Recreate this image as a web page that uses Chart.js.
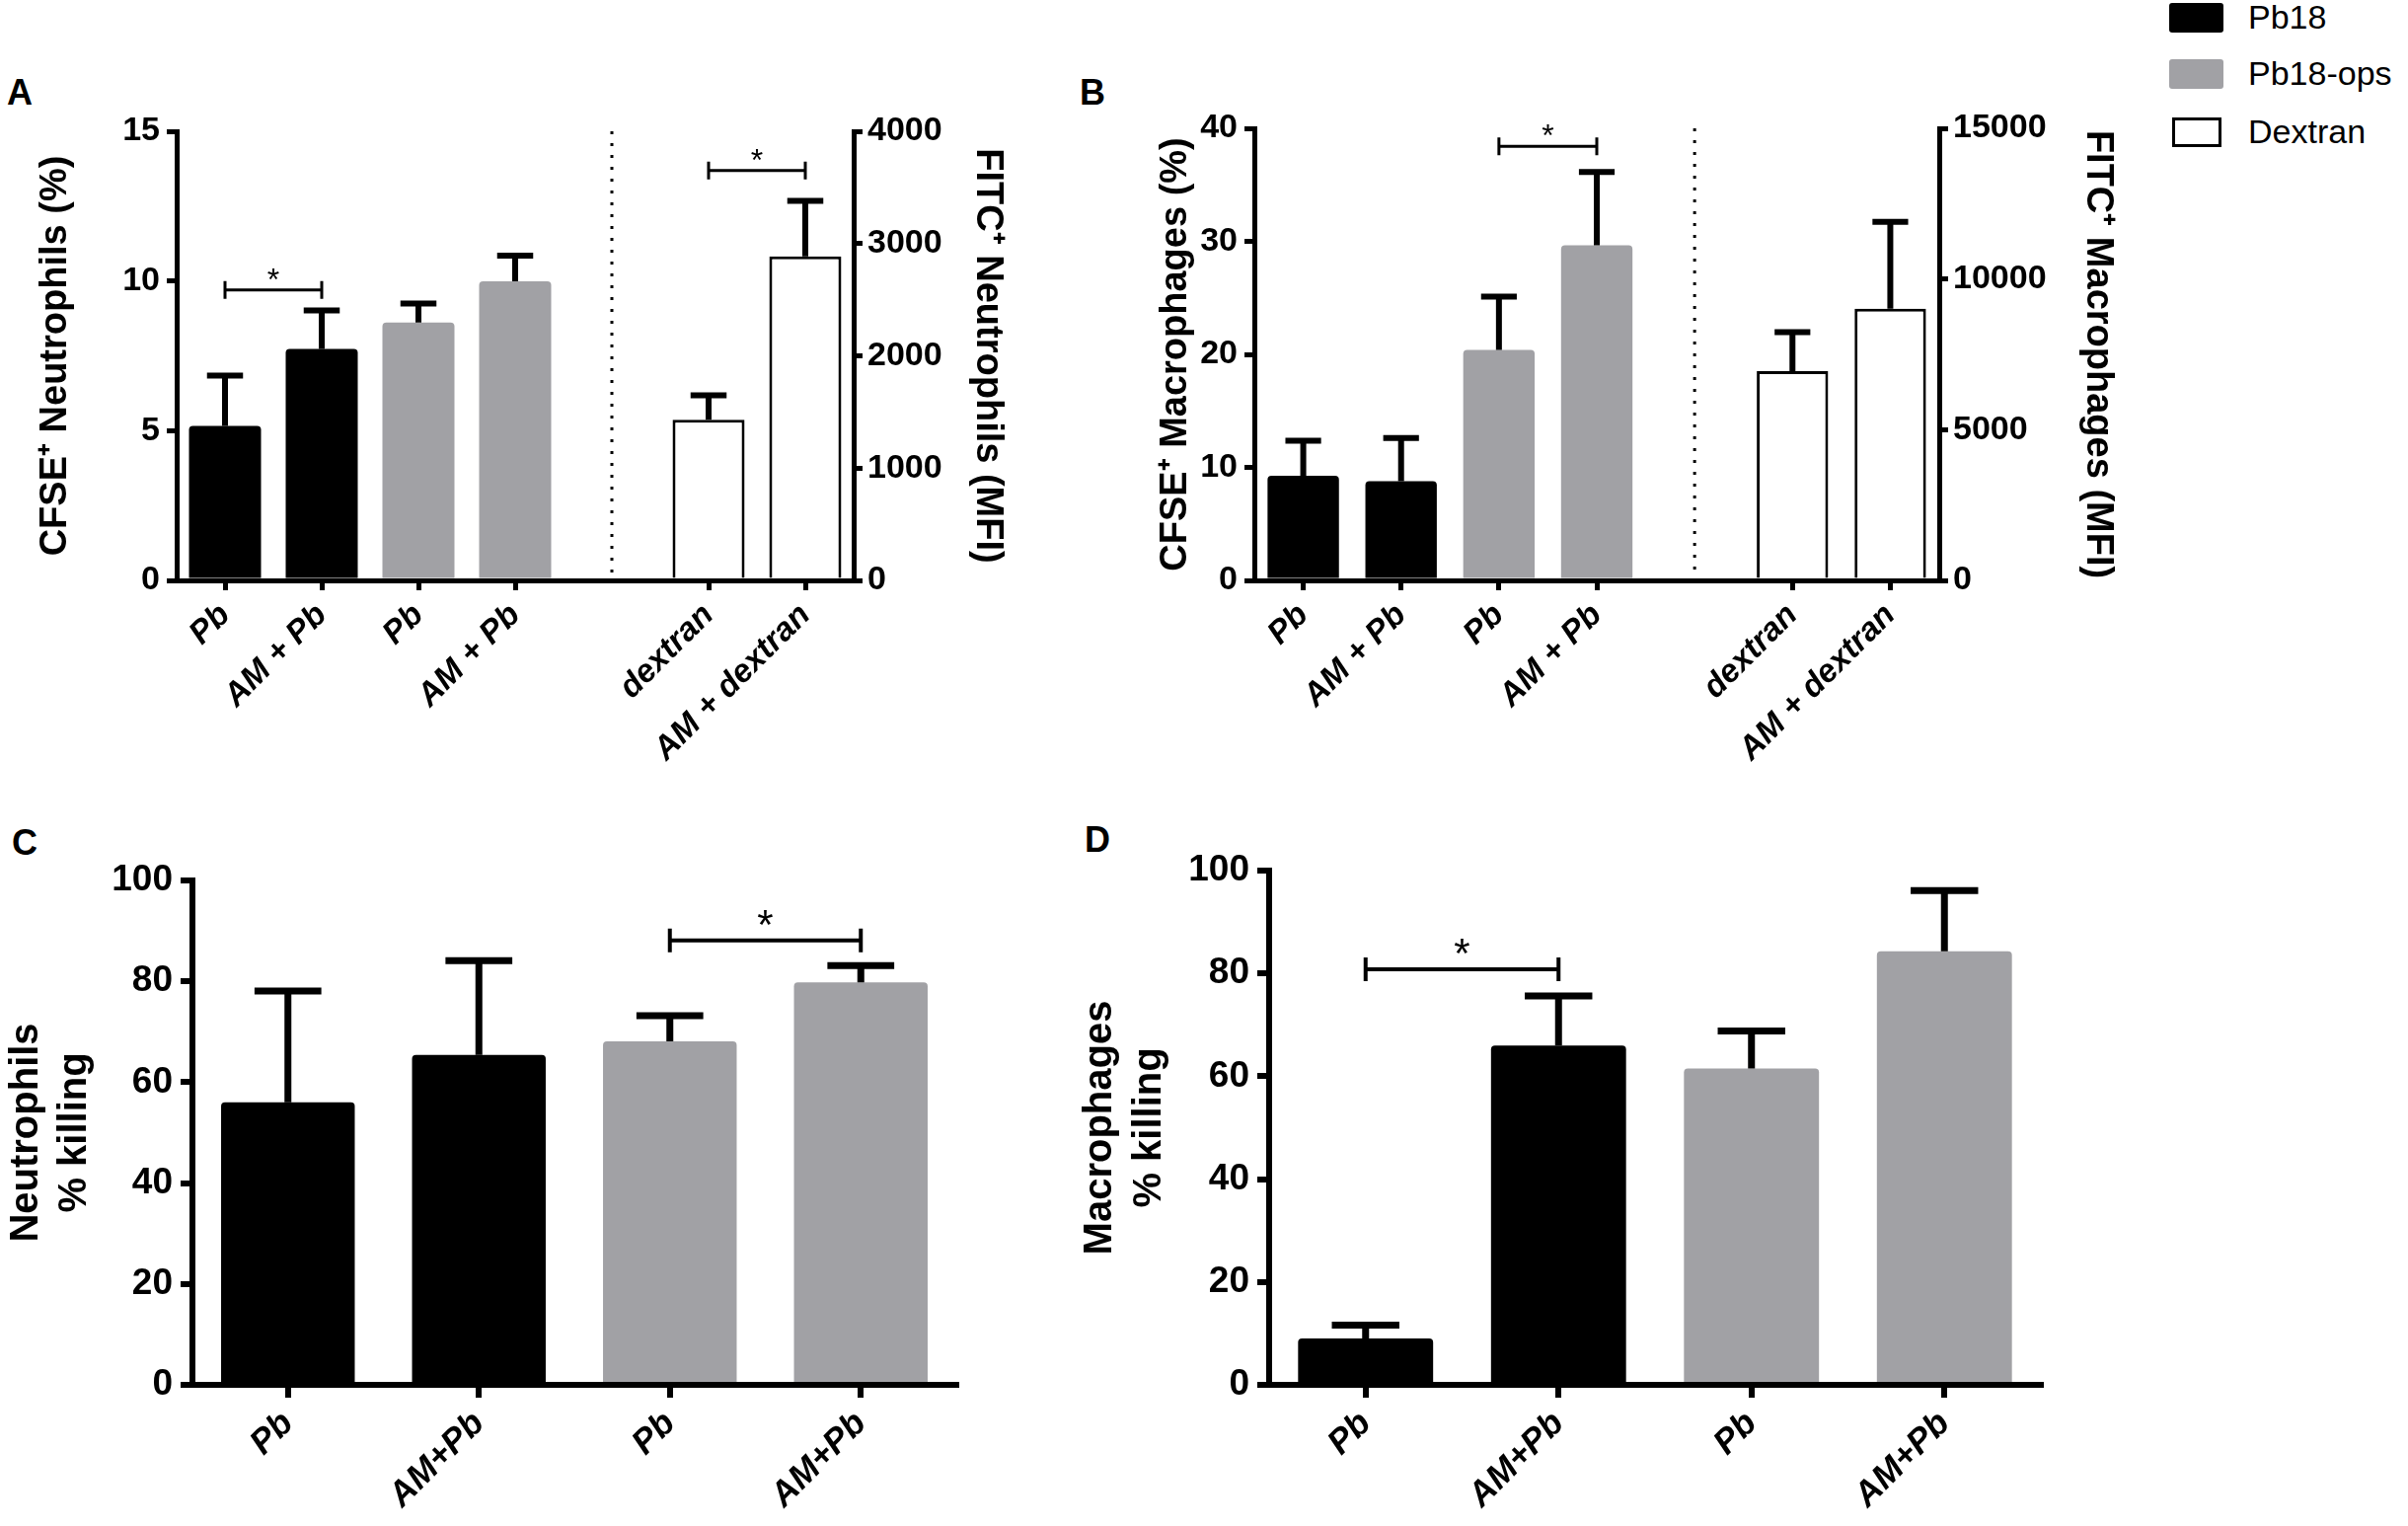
<!DOCTYPE html>
<html>
<head>
<meta charset="utf-8">
<script src="https://cdn.jsdelivr.net/npm/chart.js@4.4.1/dist/chart.umd.min.js"></script>
<style>
  html, body { margin: 0; padding: 0; background: #fff; }
  body { width: 2440px; height: 1546px; position: relative; overflow: hidden; font-family: 'Liberation Sans', Arial, sans-serif; }
  canvas { position: absolute; }
  .letter { position: absolute; font-weight: bold; font-size: 36px; line-height: 1; }
  .leg { position: absolute; left: 2198px; font-size: 34px; line-height: 1; white-space: nowrap; }
  .leg span.box { position: absolute; left: 0; width: 55px; height: 30px; box-sizing: border-box; border-radius: 3px; }
  .leg span.txt { position: absolute; left: 80px; top: -3px; }
</style>
</head>
<body>
<div class="letter" style="left:7px; top:76px;">A</div>
<div class="letter" style="left:1094px; top:76px;">B</div>
<div class="letter" style="left:12px; top:836px;">C</div>
<div class="letter" style="left:1099px; top:833px;">D</div>

<div class="leg" style="top:3px;"><span class="box" style="background:#000;"></span><span class="txt">Pb18</span></div>
<div class="leg" style="top:60px;"><span class="box" style="background:#a1a1a5;"></span><span class="txt">Pb18-ops</span></div>
<div class="leg" style="top:119px;"><span class="box" style="background:#fff; border:3px solid #000; border-radius:0; left:3px; width:50px;"></span><span class="txt">Dextran</span></div>

<canvas id="chartA" width="1040" height="800" style="left:0; top:0;"></canvas>
<canvas id="chartB" width="1100" height="800" style="left:1080px; top:0;"></canvas>
<canvas id="chartC" width="1000" height="726" style="left:0; top:820px;"></canvas>
<canvas id="chartD" width="1040" height="726" style="left:1080px; top:820px;"></canvas>

<script>
// ---- data ----
// A: neutrophils, CFSE+ (%) for Pb18 / Pb18-ops, FITC+ MFI for dextran
const labelsAB = ['Pb', 'AM + Pb', 'Pb', 'AM + Pb', '', 'dextran', 'AM + dextran'];
const cfseNeutro = [5.16, 7.73, 8.61, 9.99];
const cfseNeutroErr = [1.68, 1.29, 0.64, 0.86];
const fitcNeutro = [1430, 2885];
const fitcNeutroErr = [218, 496];
const sigA = [
  { from: 0, to: 1, level: 9.7, axis: 'y' },
  { from: 5, to: 6, level: 3650, axis: 'y2' }
];

// B: macrophages
const cfseMacro = [9.26, 8.77, 20.39, 29.64];
const cfseMacroErr = [3.09, 3.82, 4.71, 6.5];
const fitcMacro = [6945, 9016];
const fitcMacroErr = [1294, 2878];
const sigB = [{ from: 2, to: 3, level: 38.4, axis: 'y' }];

// C / D: % killing
const labelsCD = ['Pb', 'AM+Pb', 'Pb', 'AM+Pb'];
const killNeutro = [56.0, 65.4, 68.1, 79.8];
const killNeutroErr = [22.1, 18.7, 5.1, 3.3];
const sigC = [{ from: 2, to: 3, level: 88.1, axis: 'y' }];
const killMacro = [9.0, 66.0, 61.5, 84.3];
const killMacroErr = [2.6, 9.6, 7.3, 11.8];
const sigD = [{ from: 0, to: 1, level: 80.8, axis: 'y' }];

// ---- styles ----
const BLACK = '#000000';
const GRAY = '#a1a1a5';
const WHITE = '#ffffff';
const groupColors = [BLACK, BLACK, GRAY, GRAY];
const SANS = "'Liberation Sans', Arial, sans-serif";

// error bars (upper only, GraphPad style)
const errorBars = {
  id: 'errorBars',
  afterDatasetsDraw(chart) {
    const ctx = chart.ctx;
    chart.data.datasets.forEach((ds, di) => {
      if (!ds.errors) return;
      const meta = chart.getDatasetMeta(di);
      const scale = chart.scales[meta.yAxisID];
      meta.data.forEach((bar, i) => {
        const v = ds.data[i], e = ds.errors[i];
        if (v == null || e == null) return;
        const yTop = scale.getPixelForValue(v + e);
        const half = bar.width / 4;
        ctx.save();
        ctx.strokeStyle = BLACK;
        ctx.lineWidth = ds.errorWidth;
        ctx.beginPath();
        ctx.moveTo(bar.x, bar.y);
        ctx.lineTo(bar.x, yTop);
        ctx.moveTo(bar.x - half, yTop);
        ctx.lineTo(bar.x + half, yTop);
        ctx.stroke();
        ctx.restore();
      });
    });
  }
};

// significance brackets with a star
const sigBrackets = {
  id: 'sigBrackets',
  afterDatasetsDraw(chart, args, opts) {
    if (!opts.items) return;
    const ctx = chart.ctx;
    const xs = chart.scales.x;
    opts.items.forEach(b => {
      const x1 = xs.getPixelForValue(b.from);
      const x2 = xs.getPixelForValue(b.to);
      const y = chart.scales[b.axis].getPixelForValue(b.level);
      ctx.save();
      ctx.strokeStyle = BLACK;
      ctx.lineWidth = opts.lineWidth;
      ctx.beginPath();
      ctx.moveTo(x1, y); ctx.lineTo(x2, y);
      ctx.moveTo(x1, y - opts.tick); ctx.lineTo(x1, y + opts.tick);
      ctx.moveTo(x2, y - opts.tick); ctx.lineTo(x2, y + opts.tick);
      ctx.stroke();
      ctx.fillStyle = BLACK;
      ctx.font = opts.starSize + 'px ' + SANS;
      ctx.textAlign = 'center';
      ctx.textBaseline = 'alphabetic';
      ctx.fillText('*', (x1 + x2) / 2, y - opts.starGap);
      ctx.restore();
    });
  }
};

// dotted separator at the empty category
const divider = {
  id: 'divider',
  afterDatasetsDraw(chart, args, opts) {
    if (opts.index == null) return;
    const ctx = chart.ctx;
    const x = chart.scales.x.getPixelForValue(opts.index);
    const area = chart.chartArea;
    ctx.save();
    ctx.strokeStyle = BLACK;
    ctx.lineWidth = 3;
    ctx.setLineDash([3, 9]);
    ctx.beginPath();
    ctx.moveTo(x, area.top);
    ctx.lineTo(x, area.bottom);
    ctx.stroke();
    ctx.restore();
  }
};

function yAxis(o) {
  return {
    type: 'linear',
    position: o.position,
    min: 0,
    max: o.max,
    ticks: {
      stepSize: o.step,
      color: BLACK,
      padding: o.tickPad,
      font: { family: SANS, size: o.tickSize, weight: 'bold' },
      callback: v => String(v)
    },
    grid: { drawOnChartArea: false, drawTicks: true, tickLength: o.tickLen, color: BLACK, lineWidth: o.lw },
    border: { display: true, color: BLACK, width: o.lw },
    title: {
      display: true,
      text: o.title,
      color: BLACK,
      font: { family: SANS, size: o.titleSize, weight: 'bold', lineHeight: o.titleLH },
      padding: { top: o.titlePad, bottom: 0 }
    },
    afterFit: s => { s.width = o.width; }
  };
}

function xAxis(labels, o) {
  return {
    type: 'category',
    offset: true,
    grid: {
      offset: false,
      drawOnChartArea: false,
      tickLength: o.tickLen,
      lineWidth: o.lw,
      color: ctx => (labels[ctx.index] === '' ? 'rgba(0,0,0,0)' : BLACK)
    },
    border: { display: true, color: BLACK, width: o.lw },
    ticks: {
      autoSkip: false,
      minRotation: 45,
      maxRotation: 45,
      color: BLACK,
      padding: 6,
      font: { family: SANS, size: o.labelSize, weight: 'bold', style: 'italic' }
    },
    afterFit: s => { s.height = o.height; }
  };
}

function baseOptions(padding, scales, plugins) {
  return {
    responsive: false,
    devicePixelRatio: 1,
    animation: false,
    layout: { padding },
    scales,
    plugins: Object.assign({ legend: { display: false }, tooltip: { enabled: false } }, plugins)
  };
}

function pad(arr, before, after) {
  return Array(before).fill(null).concat(arr, Array(after).fill(null));
}

const filledBar = { borderRadius: 4, borderSkipped: 'start' };

// ---- Panel A ----
new Chart(document.getElementById('chartA'), {
  type: 'bar',
  data: {
    labels: labelsAB,
    datasets: [
      Object.assign({
        data: pad(cfseNeutro, 0, 3), errors: pad(cfseNeutroErr, 0, 3), errorWidth: 6,
        yAxisID: 'y', grouped: false, backgroundColor: groupColors,
        barPercentage: 0.745, categoryPercentage: 1
      }, filledBar),
      {
        data: pad(fitcNeutro, 5, 0), errors: pad(fitcNeutroErr, 5, 0), errorWidth: 6,
        yAxisID: 'y2', grouped: false, backgroundColor: WHITE, borderColor: BLACK, borderWidth: 3,
        barPercentage: 0.745, categoryPercentage: 1
      }
    ]
  },
  options: baseOptions({ top: 133, left: 0, right: 0, bottom: 0 }, {
    x: xAxis(labelsAB, { tickLen: 10, lw: 5, labelSize: 33, height: 212 }),
    y: yAxis({ position: 'left', max: 15, step: 5, tickPad: 7, tickSize: 34, tickLen: 10, lw: 5,
      title: 'CFSE\u207A Neutrophils (%)', titleSize: 38, titleLH: 1.2, titlePad: 34, width: 179 }),
    y2: yAxis({ position: 'right', max: 4000, step: 1000, tickPad: 5, tickSize: 34, tickLen: 9, lw: 5,
      title: 'FITC\u207A Neutrophils (MFI)', titleSize: 38, titleLH: 1.2, titlePad: 17, width: 175 })
  }, {
    sigBrackets: { items: sigA, lineWidth: 3, tick: 9, starSize: 32, starGap: 0 },
    divider: { index: 4 }
  }),
  plugins: [errorBars, sigBrackets, divider]
});

// ---- Panel B ----
new Chart(document.getElementById('chartB'), {
  type: 'bar',
  data: {
    labels: labelsAB,
    datasets: [
      Object.assign({
        data: pad(cfseMacro, 0, 3), errors: pad(cfseMacroErr, 0, 3), errorWidth: 6,
        yAxisID: 'y', grouped: false, backgroundColor: groupColors,
        barPercentage: 0.73, categoryPercentage: 1
      }, filledBar),
      {
        data: pad(fitcMacro, 5, 0), errors: pad(fitcMacroErr, 5, 0), errorWidth: 6,
        yAxisID: 'y2', grouped: false, backgroundColor: WHITE, borderColor: BLACK, borderWidth: 3,
        barPercentage: 0.73, categoryPercentage: 1
      }
    ]
  },
  options: baseOptions({ top: 130, left: 0, right: 0, bottom: 0 }, {
    x: xAxis(labelsAB, { tickLen: 10, lw: 5, labelSize: 33, height: 212 }),
    y: yAxis({ position: 'left', max: 40, step: 10, tickPad: 7, tickSize: 34, tickLen: 10, lw: 5,
      title: 'CFSE\u207A Macrophages (%)', titleSize: 38, titleLH: 1.2, titlePad: 89, width: 191 }),
    y2: yAxis({ position: 'right', max: 15000, step: 5000, tickPad: 5, tickSize: 34, tickLen: 9, lw: 5,
      title: 'FITC\u207A Macrophages (MFI)', titleSize: 38, titleLH: 1.2, titlePad: 32, width: 215 })
  }, {
    sigBrackets: { items: sigB, lineWidth: 3, tick: 9, starSize: 32, starGap: 0 },
    divider: { index: 4 }
  }),
  plugins: [errorBars, sigBrackets, divider]
});

// ---- Panel C ----
new Chart(document.getElementById('chartC'), {
  type: 'bar',
  data: {
    labels: labelsCD,
    datasets: [Object.assign({
      data: killNeutro, errors: killNeutroErr, errorWidth: 7,
      backgroundColor: groupColors, barPercentage: 0.7, categoryPercentage: 1
    }, filledBar)]
  },
  options: baseOptions({ top: 72, left: 0, right: 31, bottom: 0 }, {
    x: xAxis(labelsCD, { tickLen: 13, lw: 6, labelSize: 35, height: 143 }),
    y: yAxis({ position: 'left', max: 100, step: 20, tickPad: 8, tickSize: 37, tickLen: 12, lw: 6,
      title: ['Neutrophils', '% killing'], titleSize: 40, titleLH: 1.22, titlePad: 3, width: 195 })
  }, {
    sigBrackets: { items: sigC, lineWidth: 4, tick: 12, starSize: 42, starGap: 2 }
  }),
  plugins: [errorBars, sigBrackets]
});

// ---- Panel D ----
new Chart(document.getElementById('chartD'), {
  type: 'bar',
  data: {
    labels: labelsCD,
    datasets: [Object.assign({
      data: killMacro, errors: killMacroErr, errorWidth: 7,
      backgroundColor: groupColors, barPercentage: 0.7, categoryPercentage: 1
    }, filledBar)]
  },
  options: baseOptions({ top: 62, left: 0, right: 52, bottom: 0 }, {
    x: xAxis(labelsCD, { tickLen: 13, lw: 6, labelSize: 35, height: 143 }),
    y: yAxis({ position: 'left', max: 100, step: 20, tickPad: 8, tickSize: 37, tickLen: 12, lw: 6,
      title: ['Macrophages', '% killing'], titleSize: 40, titleLH: 1.25, titlePad: 10, width: 206 })
  }, {
    sigBrackets: { items: sigD, lineWidth: 4, tick: 12, starSize: 42, starGap: 2 }
  }),
  plugins: [errorBars, sigBrackets]
});
</script>
</body>
</html>
